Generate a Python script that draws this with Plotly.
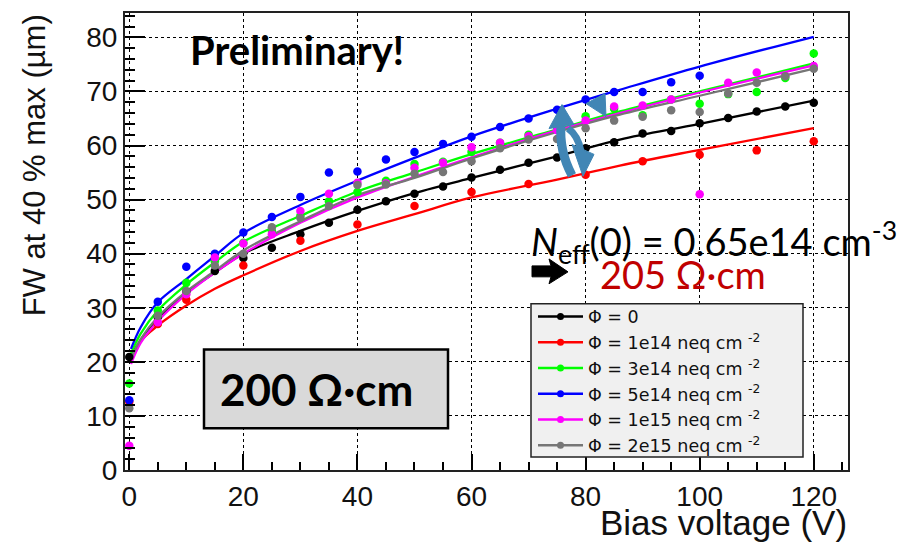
import plotly.graph_objects as go

# ---------------- data ----------------
V_pts = [0, 5, 10, 15, 20, 25, 30, 35, 40, 45, 50, 55, 60, 65, 70, 75, 80, 85, 90, 95, 100, 105, 110, 115, 120]

black_pts = [20.9, 28.3, 33.0, 36.8, 39.2, 41.1, 43.6, 45.7, 48.1, 49.7, 51.1, 52.4, 54.1, 55.5, 56.8, 57.8, 59.5, 60.6, 62.2, 62.7, 64.1, 65.1, 66.3, 67.2, 67.9]
red_pts = [12.6, 27.0, 31.5, None, 37.8, None, 42.4, None, 45.4, None, 48.8, None, 51.4, None, 52.9, None, 54.6, None, 57.1, None, 58.3, None, 59.1, None, 60.8]
green_pts = [16.0, 29.5, 34.6, 38.6, 42.0, 44.2, 47.0, 49.7, 51.4, 53.5, 56.6, 57.0, 58.8, 60.5, 62.0, 63.3, 65.4, 66.8, 65.6, 68.5, 67.7, 69.5, 69.9, 72.5, 77.0]
blue_pts = [12.9, 31.1, 37.6, 40.0, 43.9, 46.8, 50.5, 55.0, 55.2, 57.4, 58.8, 60.3, 61.6, 63.4, 65.0, 66.6, 68.5, 69.9, 69.9, 71.7, 72.9, None, None, None, None]
magenta_pts = [4.5, 27.3, 32.5, 39.3, 41.9, 43.6, 47.9, 51.1, 53.1, 53.0, 55.9, 56.8, 59.7, 60.5, 61.7, 62.8, 64.6, 67.2, 67.4, 68.5, 51.0, 71.6, 73.5, 72.9, 74.7]
grey_pts = [11.4, 28.5, 33.1, 37.8, 40.0, 44.9, 46.6, 48.8, 52.7, 52.8, 54.8, 55.1, 57.1, 59.5, 61.1, 61.2, 63.2, 64.6, 65.3, 66.5, 66.2, 69.6, 71.6, 72.8, 74.2]

V_fit = [0.3, 2, 5, 10, 15, 20, 30, 40, 50, 60, 75, 86, 100, 120]
black_fit = [21.0, 24.0, 28.0, 32.8, 36.5, 40.0, 44.2, 47.9, 51.2, 54.0, 58.0, 61.1, 64.0, 68.3]
red_fit = [20.0, 23.8, 26.7, 30.4, 33.5, 36.0, 40.5, 44.2, 47.3, 50.4, 53.7, 56.3, 59.2, 63.2]
green_fit = [21.5, 25.2, 29.5, 34.3, 38.4, 42.2, 47.0, 51.5, 55.0, 58.4, 63.0, 66.3, 70.0, 75.2]
blue_fit = [22.4, 26.4, 31.0, 35.3, 39.6, 43.8, 49.0, 53.5, 57.7, 61.7, 66.8, 70.3, 74.6, 80.1]
magenta_fit = [19.6, 23.5, 27.5, 32.5, 36.5, 40.0, 45.7, 50.4, 54.2, 57.8, 62.8, 66.0, 69.8, 74.8]
grey_fit = [20.5, 24.2, 28.3, 33.0, 36.8, 40.6, 46.0, 50.8, 54.0, 57.6, 62.5, 65.7, 69.2, 74.2]

series_names = ["Φ = 0", "Φ = 1e14 neq cm <sup>-2</sup>", "Φ = 3e14 neq cm <sup>-2</sup>",
                "Φ = 5e14 neq cm <sup>-2</sup>", "Φ = 1e15 neq cm <sup>-2</sup>", "Φ = 2e15 neq cm <sup>-2</sup>"]
series_colors = ["#000000", "#ff0000", "#00ff00", "#0000ff", "#ff00ff", "#767676"]
points = [black_pts, red_pts, green_pts, blue_pts, magenta_pts, grey_pts]
fits = [black_fit, red_fit, green_fit, blue_fit, magenta_fit, grey_fit]

x_ticks = [0, 20, 40, 60, 80, 100, 120]
y_ticks = [0, 10, 20, 30, 40, 50, 60, 70, 80]

# ---------------- geometry helpers ----------------
# the page draws the figure 8px in from the top-left corner; positions below are
# given in screenshot pixels and shifted by OFF into figure pixels
OFF = 8
W, H = 908, 544
L, R, T, B = 125 - OFF, 848 - OFF, 11 - OFF, 470 - OFF
XR = [-0.75, 126]
YR = [0, 84.5]


def d(px, py):
    px, py = px - OFF, py - OFF
    return (XR[0] + (px - L) / (R - L) * (XR[1] - XR[0]),
            YR[0] + (B - py) / (B - T) * (YR[1] - YR[0]))


def p(px, py):
    px, py = px - OFF, py - OFF
    return (px - L) / (R - L), (B - py) / (B - T)


def path(cmds):
    out = []
    for c in cmds:
        if isinstance(c, str):
            out.append(c)
        else:
            x, y = d(*c)
            out.append(f"{x:.3f},{y:.3f}")
    return " ".join(out)


FONT = "Liberation Sans, Arial, sans-serif"
fig = go.Figure()

# fit lines
for name, col, f in zip(series_names, series_colors, fits):
    fig.add_trace(go.Scatter(x=V_fit, y=f, mode="lines", line=dict(color=col, width=2.3, shape="spline"),
                             showlegend=False, hoverinfo="skip"))
# data points
for name, col, pts in zip(series_names, series_colors, points):
    fig.add_trace(go.Scatter(x=V_pts, y=pts, mode="markers", marker=dict(color=col, size=8.5),
                             showlegend=False))
# legend entries
for name, col in zip(series_names, series_colors):
    fig.add_trace(go.Scatter(x=[None], y=[None], mode="lines+markers", name=name,
                             line=dict(color=col, width=2.5), marker=dict(color=col, size=7)))

axis_common = dict(showline=True, linecolor="#222", linewidth=2, mirror=True,
                   ticks="inside", tickcolor="#000", tickwidth=1.5,
                   showgrid=True, gridcolor="#000", griddash="dot", gridwidth=1,
                   zeroline=False, tickfont=dict(family=FONT, size=28, color="#111"))

fig.update_xaxes(range=XR, tickvals=x_ticks, ticklen=16,
                 minor=dict(ticks="inside", ticklen=8, dtick=5, tick0=0, tickcolor="#000", showgrid=False),
                 **axis_common)
fig.update_yaxes(range=YR, tickvals=y_ticks, ticklen=20,
                 minor=dict(ticks="inside", ticklen=10, dtick=2, tick0=0, tickcolor="#000", showgrid=False),
                 **axis_common)

ann = []
# axis titles
yx, yy = p(34, 164)
ann.append(dict(xref="paper", yref="paper", x=yx, y=yy, text="FW at 40 % max (µm)", textangle=-90,
                showarrow=False, font=dict(family=FONT, size=31, color="#111"), xanchor="center", yanchor="middle"))
xx, xy = p(849, 523)
ann.append(dict(xref="paper", yref="paper", x=xx, y=xy, text="Bias voltage (V)", showarrow=False,
                font=dict(family=FONT, size=35, color="#111"), xanchor="right", yanchor="middle"))
# Preliminary
px_, py_ = p(188, 48)
ann.append(dict(xref="paper", yref="paper", x=px_, y=py_, text="<b>Preliminary!</b>", showarrow=False,
                font=dict(family="Lato, sans-serif", size=40, color="#000"), xanchor="left", yanchor="middle"))
# 200 Ohm cm box
bx0, by0 = p(204, 349)
bx1, by1 = p(448, 428)
cx, cy = p(316, 389)
ann.append(dict(xref="paper", yref="paper", x=cx, y=cy, text="<b>200 Ω·cm</b>", showarrow=False,
                font=dict(family="Lato, sans-serif", size=44, color="#000"), xanchor="center", yanchor="middle"))
# Neff
nx, ny = p(529, 241)
ann.append(dict(xref="paper", yref="paper", x=nx, y=ny,
                text="<i>N</i><sub>eff</sub>(0) = 0.65e14 cm<sup>-3</sup>", showarrow=False,
                font=dict(family="Lato, sans-serif", size=38, color="#000"), xanchor="left", yanchor="middle"))
rx, ry = p(598, 273)
ann.append(dict(xref="paper", yref="paper", x=rx, y=ry, text="205 Ω·cm", showarrow=False,
                font=dict(family="Lato, sans-serif", size=38, color="#c00000"), xanchor="left", yanchor="middle"))

shapes = []
shapes.append(dict(type="rect", xref="paper", yref="paper", x0=bx0, y0=by0, x1=bx1, y1=by1,
                   fillcolor="#d9d9d9", line=dict(color="#000", width=2.5), layer="above"))
# legend frame
lbx0, lby0 = p(531, 303)
lbx1, lby1 = p(803, 457)
shapes.append(dict(type="rect", xref="paper", yref="paper", x0=lbx0, y0=lby0, x1=lbx1, y1=lby1,
                   fillcolor="#f0f0f0", line=dict(color="#222", width=1.5), layer="above"))
# black arrow
shapes.append(dict(type="path", xref="x", yref="y",
                   path=path(["M", (532, 265), "L", (551, 265), "L", (549, 258), "L", (568, 271),
                              "L", (549, 283), "L", (551, 276), "L", (532, 276), "Z"]),
                   fillcolor="#000", line=dict(color="#000", width=1)))
ARROW = "#4186b5"
shapes.append(dict(type="path", xref="x", yref="y",
                   path=path(["M", (561, 122), "Q", (559, 150), (572, 174)]),
                   line=dict(color=ARROW, width=9)))
shapes.append(dict(type="path", xref="x", yref="y",
                   path=path(["M", (568, 127), "Q", (578, 134), (581, 150)]),
                   line=dict(color=ARROW, width=7)))
shapes.append(dict(type="path", xref="x", yref="y",
                   path=path(["M", (562, 103), "L", (549, 127), "L", (574, 123), "Z"]),
                   fillcolor=ARROW, line=dict(color=ARROW, width=1)))
shapes.append(dict(type="path", xref="x", yref="y",
                   path=path(["M", (572, 143), "L", (594, 153), "L", (583, 175), "Z"]),
                   fillcolor=ARROW, line=dict(color=ARROW, width=1)))
shapes.append(dict(type="path", xref="x", yref="y",
                   path=path(["M", (586, 102), "L", (605, 92), "L", (606, 115), "Z"]),
                   fillcolor=ARROW, line=dict(color=ARROW, width=1)))

lx, ly = p(533, 298)
fig.update_layout(
    width=W, height=H,
    margin=dict(l=L, r=W - R, t=T, b=H - B),
    paper_bgcolor="white", plot_bgcolor="white",
    font=dict(family=FONT, color="#000"),
    annotations=ann, shapes=shapes,
    legend=dict(x=lx, y=ly, xanchor="left", yanchor="top", bgcolor="rgba(0,0,0,0)",
                borderwidth=0, font=dict(family="DejaVu Sans, sans-serif", size=17.5, color="#111"),
                itemwidth=45, tracegroupgap=0),
    showlegend=True,
)

fig.write_html("out.html")
